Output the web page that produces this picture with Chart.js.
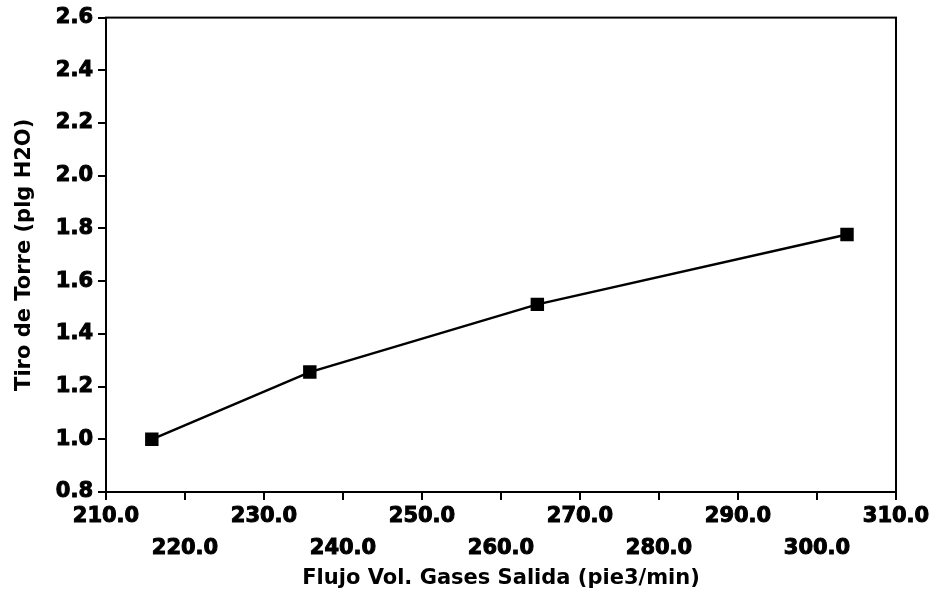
<!DOCTYPE html>
<html>
<head>
<meta charset="utf-8">
<script src="https://cdn.jsdelivr.net/npm/chart.js@4/dist/chart.umd.min.js"></script>
<style>
  html, body { margin: 0; padding: 0; background: #fff; }
  #wrap { width: 935px; height: 597px; }
</style>
</head>
<body>
<div id="wrap"><canvas id="chart" width="935" height="597"></canvas></div>
<script>
// gas flow vs. tower draft
const flujo = [215.8, 235.8, 264.6, 303.8];
const tiro = [1.0, 1.255, 1.512, 1.777];

const xTitle = "Flujo Vol. Gases Salida (pie3/min)";
const yTitle = "Tiro de Torre (plg H2O)";

const FONT = "'DejaVu Sans', Verdana, sans-serif";

// full box around the plot area
const frame = {
  id: "frame",
  afterDraw(chart) {
    const { ctx, chartArea: a } = chart;
    ctx.save();
    ctx.strokeStyle = "#000";
    ctx.lineWidth = 2;
    ctx.strokeRect(a.left, a.top, a.right - a.left, a.bottom - a.top);
    ctx.restore();
  },
};

new Chart(document.getElementById("chart"), {
  type: "scatter",
  data: {
    datasets: [
      {
        data: flujo.map((x, i) => ({ x, y: tiro[i] })),
        showLine: true,
        borderColor: "#000",
        borderWidth: 2.5,
        backgroundColor: "#000",
        pointStyle: "rect",
        pointRadius: 9.5,
        pointBorderWidth: 0,
      },
    ],
  },
  options: {
    responsive: false,
    animation: false,
    layout: { padding: { top: 17, right: 39, bottom: 0, left: 0 } },
    plugins: { legend: { display: false }, tooltip: { enabled: false } },
    scales: {
      x: {
        type: "linear",
        min: 210,
        max: 310,
        afterFit(scale) { scale.height = 105; },
        border: { display: true, color: "#000", width: 2 },
        grid: { drawOnChartArea: false, drawTicks: true, tickLength: 8, color: "#000", lineWidth: 2 },
        ticks: {
          stepSize: 10,
          autoSkip: false,
          maxRotation: 0,
          color: "#000",
          textStrokeColor: "#000",
          textStrokeWidth: 1,
          padding: 0,
          font: { family: FONT, size: 21, weight: "bold", lineHeight: 1.55 },
          callback: (v, i) => (i % 2 ? ["", v.toFixed(1)] : v.toFixed(1)),
        },
        title: {
          display: true,
          text: xTitle,
          color: "#000",
          padding: { top: 0, bottom: 6 },
          font: { family: FONT, size: 21, weight: "bold" },
        },
      },
      y: {
        min: 0.8,
        max: 2.6,
        afterFit(scale) { scale.width = 106; },
        border: { display: true, color: "#000", width: 2 },
        grid: { drawOnChartArea: false, drawTicks: true, tickLength: 8, color: "#000", lineWidth: 2 },
        ticks: {
          stepSize: 0.2,
          color: "#000",
          textStrokeColor: "#000",
          textStrokeWidth: 1,
          padding: 5,
          font: { family: FONT, size: 21, weight: "bold" },
          callback: (v) => v.toFixed(1),
        },
        title: {
          display: true,
          text: yTitle,
          color: "#000",
          padding: { top: 12, bottom: 0 },
          font: { family: FONT, size: 21, weight: "bold" },
        },
      },
    },
  },
  plugins: [frame],
});
</script>
</body>
</html>
